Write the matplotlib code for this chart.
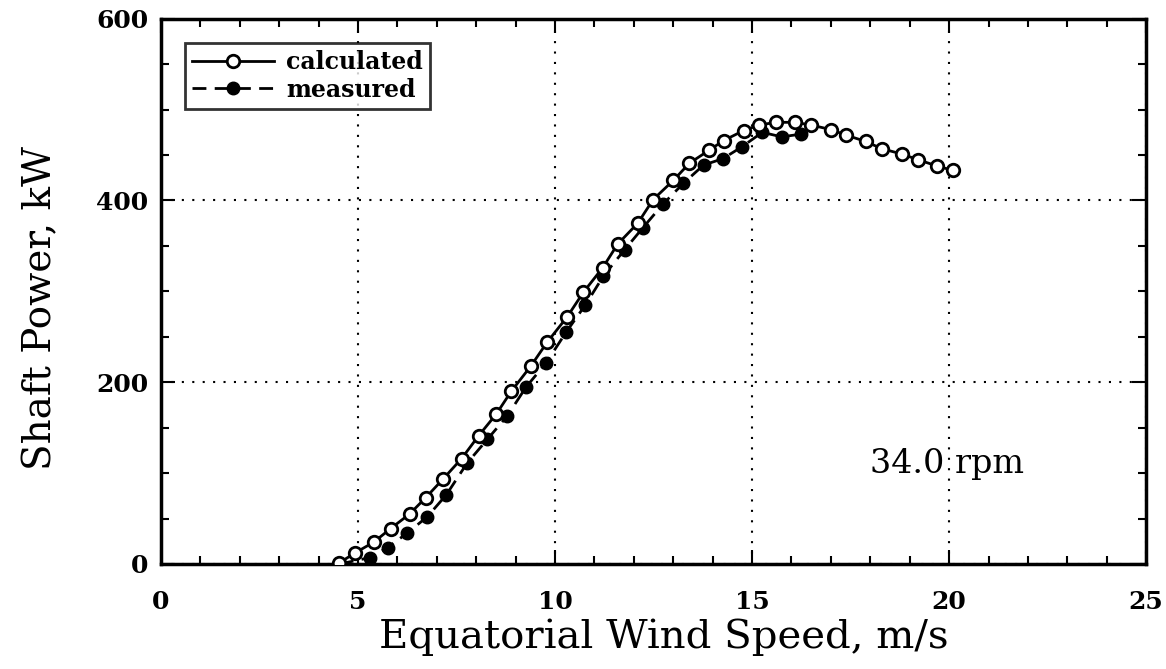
import matplotlib.pyplot as plt
from matplotlib.ticker import MultipleLocator

# calculated (open circles)
calc_speed = [4.52, 4.92, 5.40, 5.83, 6.31, 6.72, 7.17, 7.63, 8.06, 8.51, 8.89,
              9.39, 9.80, 10.31, 10.72, 11.21, 11.59, 12.10, 12.49, 13.0, 13.41,
              13.90, 14.28, 14.79, 15.18, 15.6, 16.09, 16.5, 17.0, 17.38, 17.88,
              18.29, 18.81, 19.2, 19.69, 20.1]
calc_power = [1, 12, 24, 39, 55, 73, 94, 116, 141, 165, 190,
              218, 244, 272, 299, 326, 352, 375, 401, 422, 441,
              455, 466, 477, 483, 486, 486, 483, 478, 472, 465,
              457, 451, 445, 438, 433]

# measured (filled circles)
meas_speed = [4.54, 5.3, 5.75, 6.25, 6.76, 7.24, 7.77, 8.28, 8.79, 9.27, 9.77,
              10.28, 10.77, 11.23, 11.77, 12.23, 12.74, 13.26, 13.77, 14.26,
              14.74, 15.26, 15.75, 16.24]
meas_power = [0, 7, 18, 34, 52, 76, 111, 137, 163, 195, 221,
              255, 285, 317, 346, 370, 396, 419, 439, 446,
              459, 475, 470, 473]

xticks = [0, 5, 10, 15, 20, 25]
yticks = [0, 200, 400, 600]

plt.rcParams['font.family'] = 'DejaVu Serif'

fig = plt.figure(figsize=(11.66, 6.69), dpi=100)
ax = fig.add_axes([0.138, 0.157, 0.845, 0.815])

ax.plot(calc_speed, calc_power, color='black', linewidth=2, marker='o',
        markersize=9, markerfacecolor='white', markeredgecolor='black',
        markeredgewidth=2, label='calculated', zorder=3)
ax.plot(meas_speed, meas_power, color='black', linewidth=2, linestyle=(0, (5, 3)),
        marker='o', markersize=9, markerfacecolor='black', markeredgecolor='black',
        label='measured', zorder=2)

ax.set_xlim(0, 25)
ax.set_ylim(0, 600)
ax.set_xticks(xticks)
ax.set_yticks(yticks)
ax.xaxis.set_minor_locator(MultipleLocator(1))
ax.yaxis.set_minor_locator(MultipleLocator(50))
ax.tick_params(which='both', direction='in', top=True, right=True, width=1.5)
ax.tick_params(which='major', length=10, labelsize=18)
ax.tick_params(which='minor', length=6)
ax.tick_params(axis='x', which='major', pad=19)
ax.tick_params(axis='y', which='major', pad=9)
for lab in ax.get_xticklabels() + ax.get_yticklabels():
    lab.set_fontweight('semibold')
for s in ax.spines.values():
    s.set_linewidth(2.5)

ax.grid(True, which='major', color='black', linestyle=(0, (1, 4)), linewidth=1.5)

ax.set_xlabel('Equatorial Wind Speed, m/s', fontsize=29)
ax.xaxis.set_label_coords(0.51, -0.1)
ax.set_ylabel('Shaft Power, kW', fontsize=28)
ax.yaxis.set_label_coords(-0.103, 0.47)

ax.text(19.95, 110, '34.0 rpm', fontsize=24, ha='center', va='center')

leg = ax.legend(loc='upper left', fontsize=17, frameon=True, fancybox=False,
                handlelength=3.5, handletextpad=0.5, borderpad=0.3,
                labelspacing=0.15, bbox_to_anchor=(0.012, 0.977))
leg.get_frame().set_edgecolor('black')
leg.get_frame().set_linewidth(2)
for t in leg.get_texts():
    t.set_fontweight('semibold')

fig.savefig('out.png', dpi=100)
